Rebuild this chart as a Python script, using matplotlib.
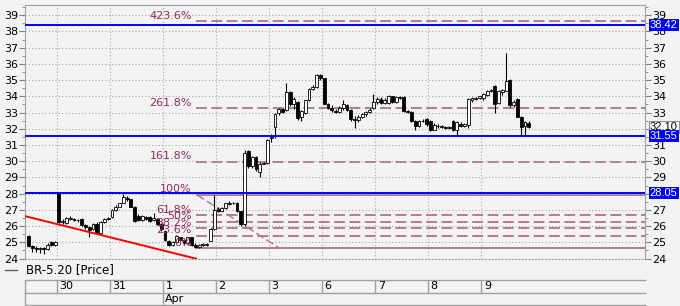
import numpy as np
import matplotlib.pyplot as plt
import matplotlib.transforms as mtransforms
from matplotlib.lines import Line2D

plt.rcParams['font.family'] = ['DejaVu Sans']

# hourly bars, 14 per trading day; first day (27 Mar) is partial
opens = [
    25.40, 24.75, 24.65, 24.60, 24.62, 24.58, 25.00, 24.85,
    28.05, 26.25, 26.20, 26.45, 26.45, 26.40, 26.45, 26.05, 25.95, 25.80, 26.15, 25.60, 26.25, 26.45,
    26.55, 27.00, 27.20, 27.45, 27.75, 27.65, 27.20, 26.60, 26.35, 26.55, 26.55, 26.35, 26.45, 26.15,
    25.70, 25.10, 24.85, 25.00, 25.30, 25.15, 24.95, 25.30, 24.85, 24.70, 24.85, 24.85, 25.10, 25.80,
    27.05, 26.95, 27.10, 27.35, 27.45, 27.45, 26.90, 26.10, 30.60, 29.70, 30.25, 29.35, 29.85, 29.90,
    31.40, 32.10, 32.95, 33.20, 33.15, 34.25, 33.50, 33.65, 32.70, 33.00, 33.75, 34.45, 34.60, 35.30,
    35.10, 33.55, 33.30, 33.10, 33.05, 33.30, 33.45, 33.15, 32.60, 32.55, 32.75, 32.90, 33.05, 33.25,
    33.65, 33.85, 33.60, 33.60, 34.00, 33.65, 33.95, 33.95, 33.10, 33.05, 32.50, 32.20, 32.50, 32.60,
    32.50, 31.95, 32.20, 32.15, 32.10, 32.10, 32.45, 31.95, 32.30, 32.20, 32.25, 33.75, 33.85, 33.90,
    33.90, 34.10, 34.35, 34.65, 33.60, 34.25, 34.35, 35.00, 33.45, 33.85, 32.75, 32.15, 32.35,
]
highs = [
    25.45, 24.85, 24.75, 24.70, 24.70, 24.95, 25.05, 25.05,
    28.05, 26.45, 26.55, 26.60, 26.50, 26.45, 26.50, 26.10, 26.00, 26.20, 26.25, 26.30, 26.50, 26.55,
    27.05, 27.30, 27.45, 27.98, 27.85, 27.70, 27.25, 26.75, 26.70, 26.60, 26.60, 26.80, 26.50, 26.20,
    25.75, 25.15, 25.05, 25.45, 25.35, 25.20, 25.35, 25.35, 24.95, 24.90, 24.95, 24.95, 25.90, 27.90,
    27.15, 27.15, 27.45, 27.55, 27.50, 27.50, 26.95, 30.70, 30.70, 30.35, 30.30, 29.95, 29.95, 31.35,
    31.70, 32.95, 33.25, 33.30, 34.85, 34.30, 33.95, 33.70, 33.15, 33.80, 34.50, 34.70, 35.40, 35.35,
    35.15, 33.60, 33.45, 33.20, 33.40, 33.75, 33.55, 33.20, 32.80, 32.85, 32.95, 33.10, 33.25, 34.15,
    33.95, 33.95, 33.90, 34.10, 34.05, 34.00, 34.00, 34.00, 33.15, 33.10, 32.55, 32.55, 32.60, 32.65,
    32.55, 32.35, 32.30, 32.25, 32.20, 32.15, 32.55, 32.45, 32.40, 32.35, 33.90, 33.95, 33.95, 34.05,
    34.20, 34.40, 34.45, 34.70, 34.40, 34.45, 36.65, 35.05, 33.75, 33.90, 32.80, 32.50, 32.45,
]
lows = [
    24.70, 24.40, 24.40, 24.35, 24.30, 24.50, 24.80, 24.80,
    26.20, 26.15, 26.15, 26.35, 26.30, 26.25, 26.00, 25.85, 25.35, 25.75, 25.55, 25.55, 26.20, 26.35,
    26.50, 26.95, 27.15, 27.40, 27.55, 27.15, 26.25, 26.30, 26.30, 26.40, 26.25, 26.30, 26.05, 25.70,
    25.10, 24.75, 24.80, 24.95, 25.05, 24.85, 24.90, 24.80, 24.62, 24.65, 24.75, 24.80, 25.05, 25.75,
    26.85, 26.90, 27.05, 27.30, 27.35, 26.85, 26.00, 26.00, 29.60, 29.60, 29.40, 29.00, 29.80, 29.85,
    31.20, 31.40, 32.85, 32.95, 33.10, 33.40, 33.20, 32.55, 32.50, 32.90, 33.70, 34.40, 34.50, 35.00,
    33.50, 33.20, 33.05, 32.95, 33.00, 33.15, 33.10, 32.50, 32.05, 32.40, 32.65, 32.80, 32.95, 33.20,
    33.50, 33.55, 33.50, 33.55, 33.60, 33.60, 33.85, 33.05, 32.95, 32.40, 31.90, 32.10, 32.40, 32.20,
    31.85, 31.90, 32.05, 32.05, 32.00, 32.00, 31.85, 31.60, 32.10, 32.10, 32.05, 33.65, 33.75, 33.85,
    33.80, 34.00, 34.25, 32.95, 33.55, 34.10, 34.30, 33.35, 33.35, 32.70, 31.60, 31.60, 32.05,
]
closes = [
    24.75, 24.65, 24.60, 24.62, 24.58, 24.85, 24.85, 25.00,
    26.25, 26.30, 26.50, 26.45, 26.40, 26.35, 26.05, 25.95, 25.75, 26.15, 25.60, 26.25, 26.45, 26.50,
    27.00, 27.20, 27.40, 27.80, 27.65, 27.20, 26.30, 26.35, 26.60, 26.45, 26.30, 26.50, 26.15, 25.80,
    25.15, 24.85, 25.00, 25.40, 25.15, 24.95, 25.30, 24.85, 24.70, 24.85, 24.85, 24.90, 25.85, 27.00,
    26.95, 27.10, 27.40, 27.45, 27.40, 26.90, 26.10, 30.50, 29.70, 30.25, 29.50, 29.85, 29.90, 31.30,
    31.50, 32.90, 33.20, 33.05, 34.25, 33.50, 33.85, 32.65, 33.10, 33.75, 34.45, 34.60, 35.30, 35.10,
    33.55, 33.30, 33.15, 33.05, 33.30, 33.50, 33.15, 32.60, 32.55, 32.75, 32.90, 33.05, 33.15, 33.65,
    33.85, 33.60, 33.75, 34.05, 33.65, 33.95, 33.90, 33.10, 33.05, 32.45, 32.20, 32.50, 32.45, 32.30,
    31.95, 32.25, 32.15, 32.10, 32.05, 32.05, 31.95, 32.40, 32.20, 32.30, 33.85, 33.90, 33.90, 34.00,
    34.15, 34.35, 34.40, 33.55, 34.30, 34.40, 34.95, 33.45, 33.65, 32.75, 32.10, 32.40, 32.10,
]
first_bar = -8

day_labels = ['30', '31', '1', '2', '3', '6', '7', '8', '9']
day_starts = [0, 14, 28, 42, 56, 70, 84, 98, 112]
month_label = 'Apr'
month_start = 28

blue_levels = [38.42, 31.55, 28.05]
last_price = 32.10

trend_x = [-8.9, 36.2]
trend_y = [26.61, 23.99]

fib_low, fib_high = 24.62, 27.93
fib_x0 = 36.2
fib_diag_x = [36.4, 58.3]
fib_levels = [0, 23.6, 38.2, 50, 61.8, 100, 161.8, 261.8, 423.6]

W, H = 680, 306
bg = '#f3f3f3'
grid_c = '#a8a8a8'
fib_c = '#b0708f'
fib_text = '#8e2c5e'

fig = plt.figure(figsize=(W / 100, H / 100), dpi=100, facecolor=bg)
ax = fig.add_axes([25 / W, (H - 259) / H, 620 / W, 254 / H], facecolor=bg)

bar_px, x0_px = 3.79, 58.9
xmin, xmax = (25 - x0_px) / bar_px, (645 - x0_px) / bar_px
ax.set_xlim(xmin, xmax)
ax.set_ylim(23.97, 39.63)

o = np.array(opens); h = np.array(highs); l = np.array(lows); c = np.array(closes)
x = np.arange(first_bar, first_bar + len(o))
up = c >= o
bot = np.minimum(o, c)
hgt = np.maximum(np.abs(c - o), 0.025)

# grid
ax.set_yticks(range(24, 40))
ax.set_yticks(np.arange(24.5, 39.6, 1.0), minor=True)
ax.set_xticks([])
ax.grid(axis='y', which='major', color=grid_c, ls=(0, (1, 2)), lw=0.8, zorder=0)
for s in day_starts:
    ax.axvline(s - 0.5, color=grid_c, ls=(0, (1, 2)), lw=0.8, zorder=0)

# fibonacci
for lv in fib_levels:
    p = fib_low + (fib_high - fib_low) * lv / 100
    ls = '-' if lv in (0, 100) else (0, (6, 2.5))
    ax.hlines(p, fib_x0, xmax, color=fib_c, lw=1.3, ls=ls, zorder=1)
    ax.text(fib_x0 - 1.1, p + 0.02, f'{lv:g}%', ha='right', va='bottom',
            color=fib_text, fontsize=8, zorder=6)
ax.plot(fib_diag_x, [fib_high, fib_low], color=fib_c, lw=1, ls=(0, (6, 2.5)), zorder=1)

# candles
ax.vlines(x, l, h, color='black', lw=0.8, zorder=3)
ax.bar(x[up], hgt[up], bottom=bot[up], width=0.75, color='white',
       edgecolor='black', lw=0.6, zorder=4)
ax.bar(x[~up], hgt[~up], bottom=bot[~up], width=0.75, color='black',
       edgecolor='black', lw=0.6, zorder=4)

ax.plot(trend_x, trend_y, color='#ff0000', lw=1.4, zorder=5)

trans = mtransforms.blended_transform_factory(ax.transAxes, ax.transData)
for v in blue_levels:
    ax.axhline(v, color='#0000ff', lw=1.4, zorder=5)
    ax.text(1.0075, v, f'{v:.2f}', transform=trans, color='white', fontsize=8,
            family='Liberation Sans', ha='left', va='center', zorder=10, clip_on=False,
            bbox=dict(boxstyle='square,pad=0.1', fc='#0000ff', ec='none'))
ax.text(1.0075, last_price, f'{last_price:.2f}', transform=trans, color='black',
        fontsize=8, family='Liberation Sans', ha='left', va='center', zorder=9,
        clip_on=False,
        bbox=dict(boxstyle='square,pad=0.1', fc='white', ec='#909090', lw=0.8))

ax.tick_params(axis='y', which='both', left=True, right=True, labelleft=True,
               labelright=True, color='#808080', labelsize=8, pad=1)
ax.tick_params(axis='y', which='major', length=4)
ax.tick_params(axis='y', which='minor', length=2)
for side in ['top', 'left', 'right', 'bottom']:
    ax.spines[side].set_color('#a0a0a0')
ax.spines['bottom'].set_linestyle((0, (1, 2)))

# legend line
fig.add_artist(Line2D([5 / W, 17 / W], [1 - 270 / H] * 2, color='#606060', lw=1))
fig.text(26 / W, 1 - 270 / H, 'BR-5.20 [Price]', ha='left', va='center', fontsize=8.5)

# date axis
ax2 = fig.add_axes([25 / W, 1 - 305 / H, 620 / W, 25.5 / H])
ax2.set_xlim(xmin, xmax)
ax2.set_ylim(0, 1)
ax2.axis('off')
mid = 0.47
tc = '#a0a0a0'
for yy in (0, mid, 1):
    ax2.axhline(yy, color=tc, lw=1, clip_on=False)
ax2.vlines(xmin, 0, 1, color=tc, lw=1, clip_on=False)
for s, lab in zip(day_starts, day_labels):
    ax2.vlines(s - 0.5, mid, 1, color=tc, lw=1)
    ax2.text(s + 0.1, (1 + mid) / 2, lab, ha='left', va='center', fontsize=8)
ax2.vlines(month_start - 0.5, 0, mid, color=tc, lw=1)
ax2.text(month_start + 0.1, mid / 2, month_label, ha='left', va='center', fontsize=8)

fig.savefig('out.png', dpi=100, facecolor=bg)
